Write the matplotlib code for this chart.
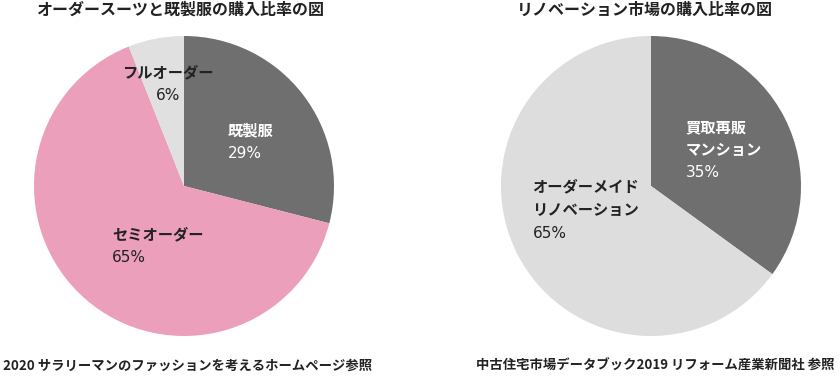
import matplotlib
matplotlib.use('Agg')
import matplotlib.pyplot as plt

plt.rcParams['font.family'] = ['Noto Sans CJK JP', 'DejaVu Sans']

# left chart: suits
suit_labels = ['既製服', 'セミオーダー', 'フルオーダー']
suit_values = [29, 65, 6]
suit_colors = ['#6f6f6f', '#eb9fbb', '#e0e0e0']

# right chart: renovation
reno_labels = ['買取再販\nマンション', 'オーダーメイド\nリノベーション']
reno_values = [35, 65]
reno_colors = ['#6f6f6f', '#dddddd']

W, H = 840, 379
fig = plt.figure(figsize=(W / 100, H / 100), dpi=100)

ax1 = fig.add_axes([34 / W, 1 - 336 / H, 300 / W, 300 / H])
ax2 = fig.add_axes([501 / W, 1 - 336 / H, 300 / W, 300 / H])

ax1.pie(suit_values, colors=suit_colors, startangle=90, counterclock=False,
        wedgeprops=dict(linewidth=0))
ax2.pie(reno_values, colors=reno_colors, startangle=90, counterclock=False,
        wedgeprops=dict(linewidth=0))
for ax in (ax1, ax2):
    ax.set_xlim(-1, 1)
    ax.set_ylim(-1, 1)
    ax.set_aspect('auto')

fs = 11
kw = dict(fontsize=fs, fontweight='bold', ha='left', va='center')
# percentages look like a latin sans, a bit wider
pk = dict(fontsize=fs, family=['DejaVu Sans'], ha='left', va='center')
dark = '#222222'

# left labels
ax1.text(0.29, 0.37, suit_labels[0], color='white', **kw)
ax1.text(0.29, 0.22, f'{suit_values[0]}%', color='white', **pk)
ax1.text(-0.48, -0.32, suit_labels[1], color=dark, **kw)
ax1.text(-0.48, -0.48, f'{suit_values[1]}%', color=dark, **pk)
ax1.text(-0.41, 0.76, suit_labels[2], color=dark, **kw)
ax1.text(-0.19, 0.60, f'{suit_values[2]}%', color=dark, **pk)

# right labels
ax2.text(0.23, 0.39, reno_labels[0].split('\n')[0], color='white', **kw)
ax2.text(0.23, 0.24, reno_labels[0].split('\n')[1], color='white', **kw)
ax2.text(0.23, 0.087, f'{reno_values[0]}%', color='white', **pk)
ax2.text(-0.79, 0.0, reno_labels[1].split('\n')[0], color=dark, **kw)
ax2.text(-0.79, -0.16, reno_labels[1].split('\n')[1], color=dark, **kw)
ax2.text(-0.79, -0.32, f'{reno_values[1]}%', color=dark, **pk)

# titles and sources
fig.text(180 / W, 1 - 10 / H, 'オーダースーツと既製服の購入比率の図', ha='center', va='center',
         fontsize=11.5, fontweight='bold', color=dark)
fig.text(645 / W, 1 - 10 / H, 'リノベーション市場の購入比率の図', ha='center', va='center',
         fontsize=11.5, fontweight='bold', color=dark)
fig.text(3 / W, 1 - 366 / H, '2020 サラリーマンのファッションを考えるホームページ参照', ha='left', va='center',
         fontsize=9.6, fontweight='bold', color=dark)
fig.text(835 / W, 1 - 366 / H, '中古住宅市場データブック2019 リフォーム産業新聞社 参照', ha='right', va='center',
         fontsize=9.6, fontweight='bold', color=dark)

fig.savefig('out.png', dpi=100)
